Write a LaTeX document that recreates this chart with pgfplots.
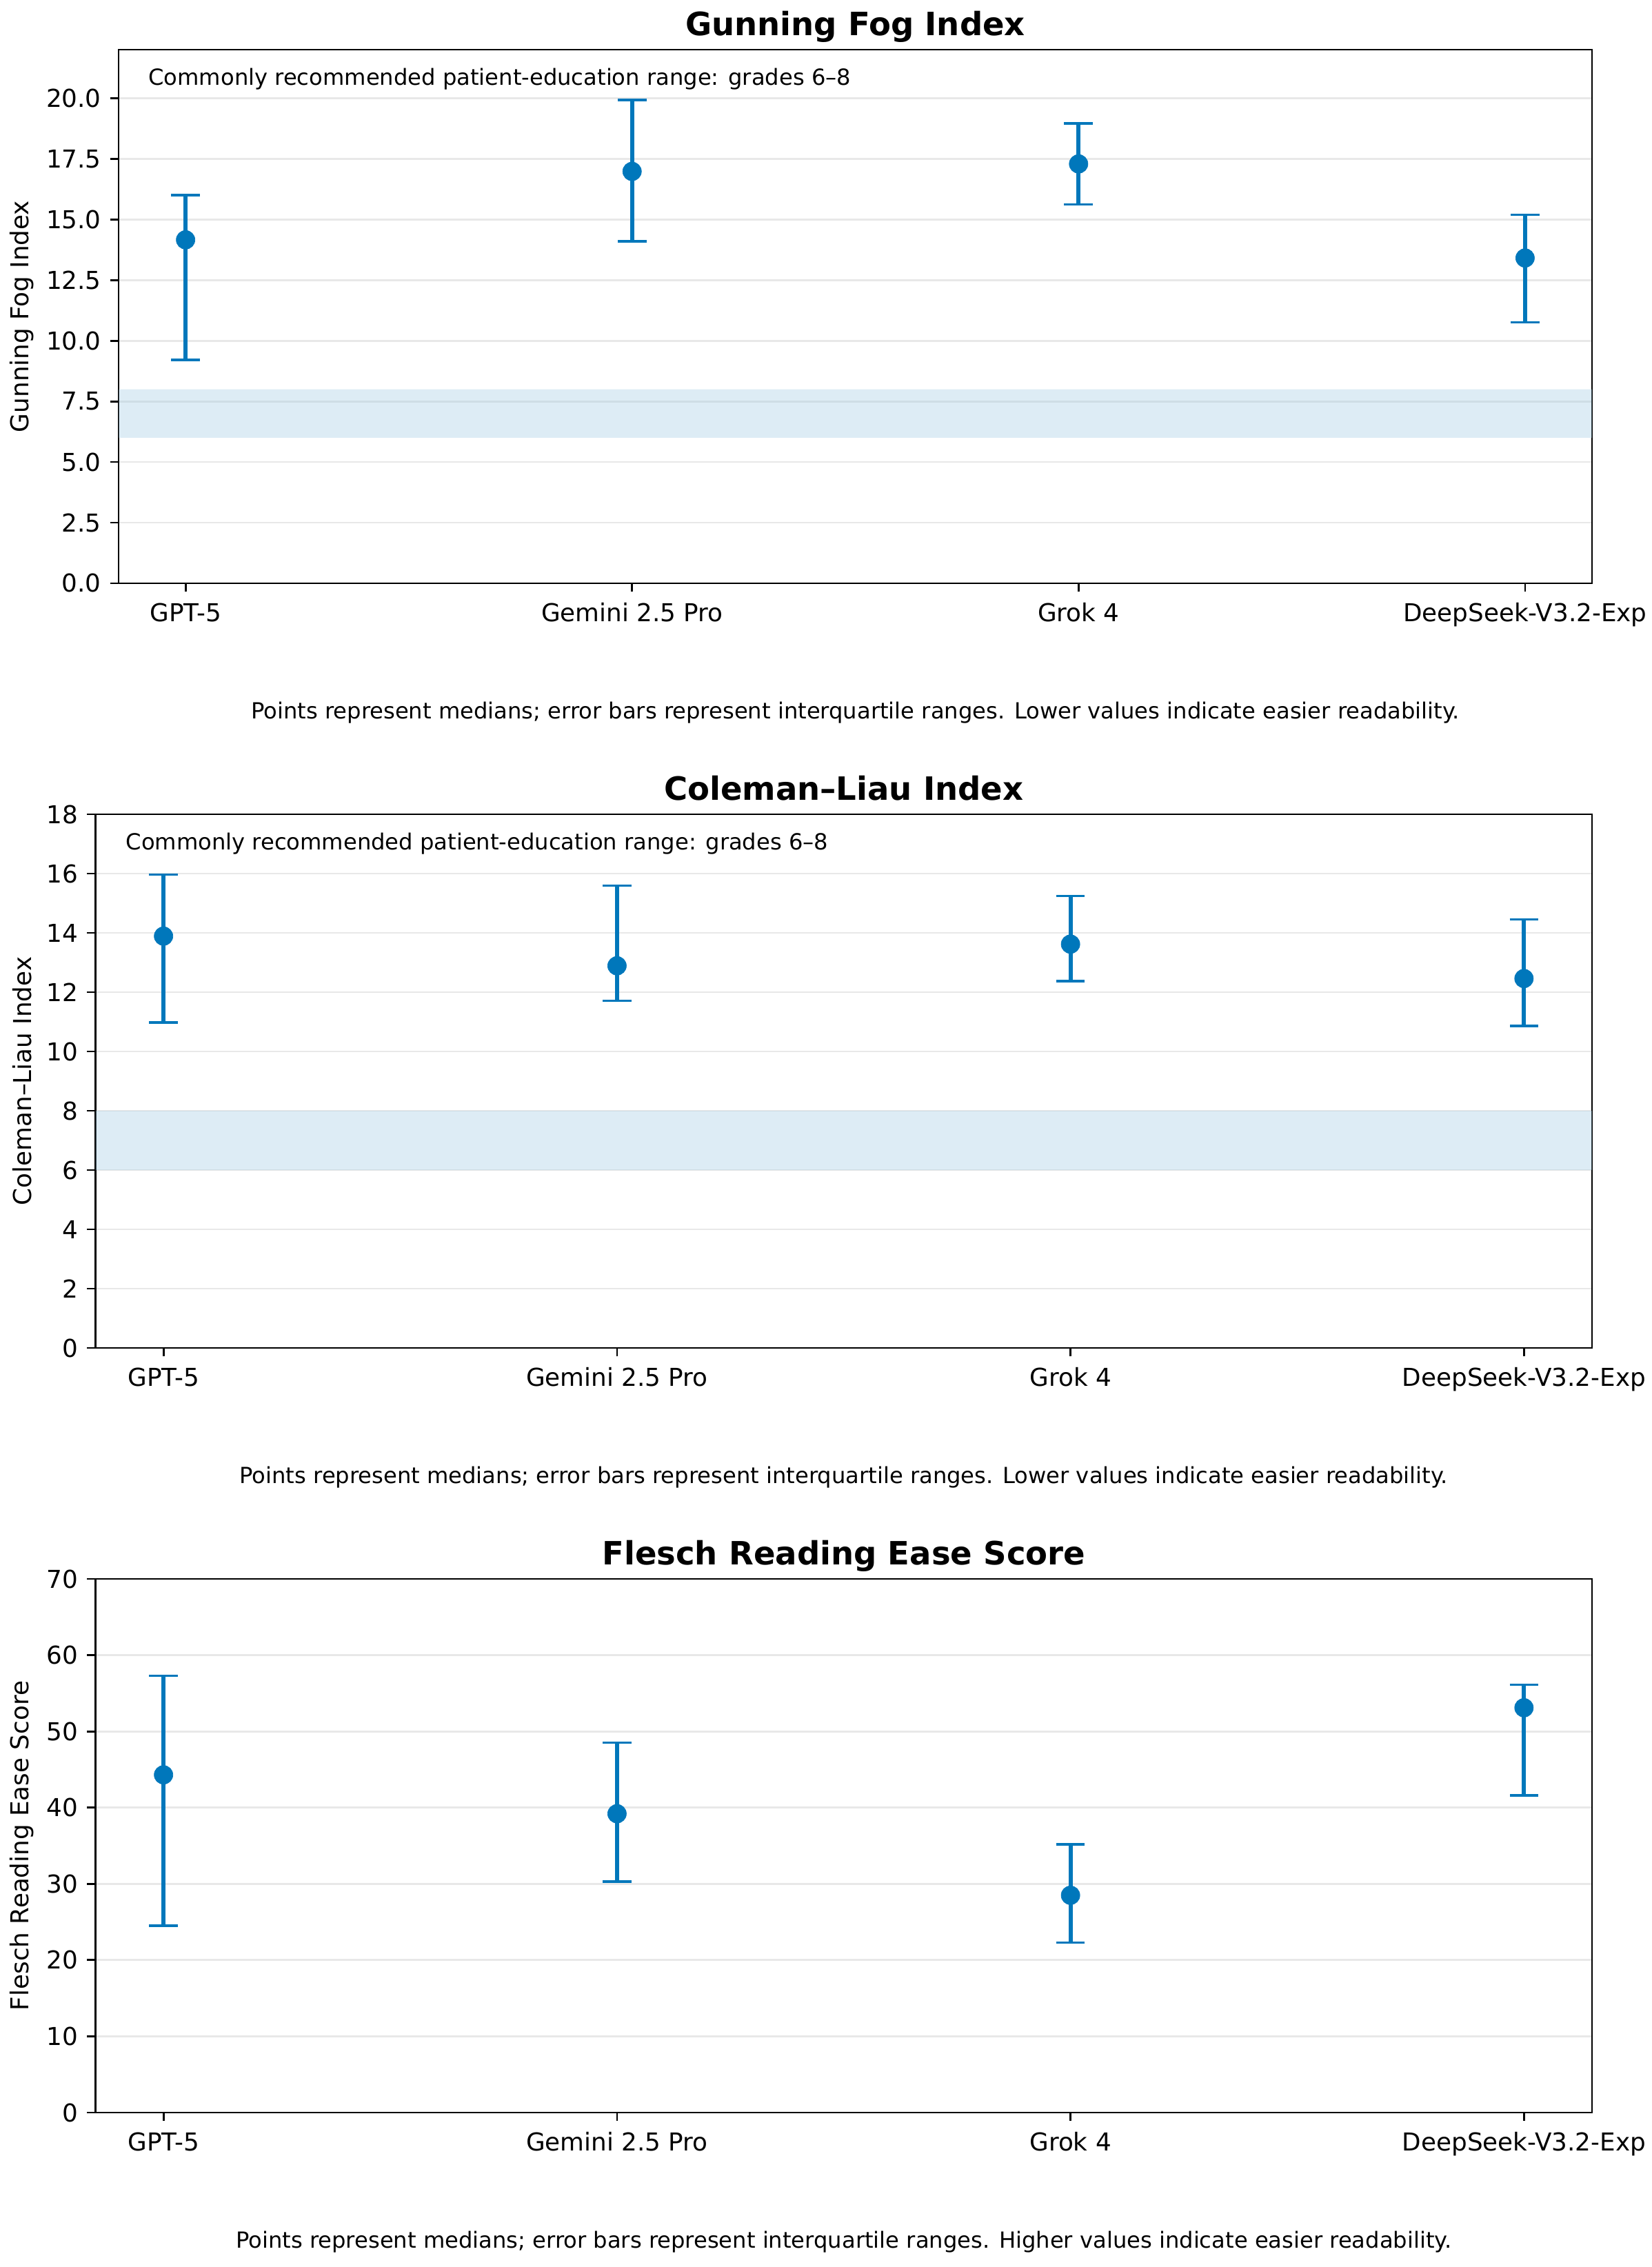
\documentclass[border=0pt]{standalone}
\usepackage{pgfplots}
\usepackage{pgfplotstable}
\pgfplotsset{compat=1.18}
\usepackage{fontspec}
\setmainfont{DejaVu Sans}
\definecolor{eb}{RGB}{0,119,187}
\definecolor{bandc}{RGB}{158,202,225}
\definecolor{gridc}{RGB}{232,232,232}

% median, error plus (Q3 - median), error minus (median - Q1)
\pgfplotstableread{
x y ep em
0 14.16 1.84 4.95
1 16.98 2.94 2.88
2 17.29 1.67 1.67
3 13.41 1.78 2.65
}\fog
\pgfplotstableread{
x y ep em
0 13.89 2.07 2.91
1 12.89 2.70 1.18
2 13.62 1.62 1.25
3 12.46 1.99 1.60
}\cli
\pgfplotstableread{
x y ep em
0 44.3 13.0 19.8
1 39.2 9.3 8.9
2 28.5 6.7 6.2
3 53.1 3.0 11.5
}\fre

\newcommand{\fsT}{\fontsize{10.3bp}{12.3bp}\selectfont}
\newcommand{\fsS}{\fontsize{9.27bp}{11bp}\selectfont}

\pgfplotsset{
  panel/.style={
    scale only axis, height=222.9bp,
    xmin=-0.15, xmax=3.15, ymin=0,
    xtick={0,1,2,3},
    xticklabels={GPT-5, Gemini 2.5 Pro, Grok 4, DeepSeek-V3.2-Exp},
    tick pos=left, tick align=outside,
    major tick length=3.6bp,
    every tick/.style={black, line width=0.8bp},
    axis line style={line width=0.8bp},
    ymajorgrids, major grid style={gridc, line width=0.8bp},
    tick label style={font=\fsT},
    /pgf/number format/assume math mode=true,
    xticklabel style={anchor=base, inner sep=0pt, yshift=-12.4bp},
    yticklabel style={anchor=east, inner sep=0pt, xshift=-3.5bp},
    every axis title/.style={at={(rel axis cs:0.5,1)}, anchor=base, yshift=6bp, font=\bfseries\fontsize{13.4bp}{16bp}\selectfont},
    clip=false,
  },
  ylab/.style={every axis y label/.style={at={(rel axis cs:0,0.5)}, xshift=#1, rotate=90, anchor=center, font=\fsT}},
  pts/.style={color=eb, mark=*, mark size=3.9bp, only marks, mark options={draw=eb, fill=eb, line width=0.2bp},
    error bars/.cd, y dir=both, y explicit, error mark=-, error bar style={line width=1.8bp, eb},
    error mark options={rotate=90, line width=1bp, mark size=6bp, eb}},
  band/.style={draw=none, fill=bandc, fill opacity=0.35, mark=none, forget plot},
}

\begin{document}
\begin{tikzpicture}
\useasboundingbox (0,0) rectangle (689.76bp,-946.94bp);

% Panel 1
\begin{axis}[panel, ylab=-40.3bp, at={(49.54bp,-20.74bp)}, anchor=north west,
  width=615.46bp, ymax=22, ytick={0,2.5,...,20},
  yticklabel style={/pgf/number format/.cd, fixed, fixed zerofill, precision=1},
  title={Gunning Fog Index}, ylabel={Gunning Fog Index}]
  \addplot[band] coordinates {(-0.15,6) (3.15,6) (3.15,8) (-0.15,8) (-0.15,6)};
  \addplot[pts] table[x=x, y=y, y error plus=ep, y error minus=em] {\fog};
  \node[anchor=base west, inner sep=0pt, font=\fsS] at (rel axis cs:0.02,0.934) {Commonly recommended patient-education range: grades 6–8};
  \node[anchor=base, inner sep=0pt, font=\fsS] at ([yshift=-56.5bp]rel axis cs:0.5,0) {Points represent medians; error bars represent interquartile ranges. Lower values indicate easier readability.};
\end{axis}

% Panel 2
\begin{axis}[panel, ylab=-30.7bp, at={(39.89bp,-340.13bp)}, anchor=north west,
  width=625.1bp, ymax=18, ytick={0,2,...,18},
  title={Coleman–Liau Index}, ylabel={Coleman–Liau Index}]
  \addplot[band] coordinates {(-0.15,6) (3.15,6) (3.15,8) (-0.15,8) (-0.15,6)};
  \addplot[pts] table[x=x, y=y, y error plus=ep, y error minus=em] {\cli};
  \node[anchor=base west, inner sep=0pt, font=\fsS] at (rel axis cs:0.02,0.934) {Commonly recommended patient-education range: grades 6–8};
  \node[anchor=base, inner sep=0pt, font=\fsS] at ([yshift=-56.5bp]rel axis cs:0.5,0) {Points represent medians; error bars represent interquartile ranges. Lower values indicate easier readability.};
\end{axis}

% Panel 3
\begin{axis}[panel, ylab=-30.7bp, at={(39.89bp,-659.52bp)}, anchor=north west,
  width=625.1bp, ymax=70, ytick={0,10,...,70},
  title={Flesch Reading Ease Score}, ylabel={Flesch Reading Ease Score}]
  \addplot[pts] table[x=x, y=y, y error plus=ep, y error minus=em] {\fre};
  \node[anchor=base, inner sep=0pt, font=\fsS] at ([yshift=-56.5bp]rel axis cs:0.5,0) {Points represent medians; error bars represent interquartile ranges. Higher values indicate easier readability.};
\end{axis}
\end{tikzpicture}
\end{document}
